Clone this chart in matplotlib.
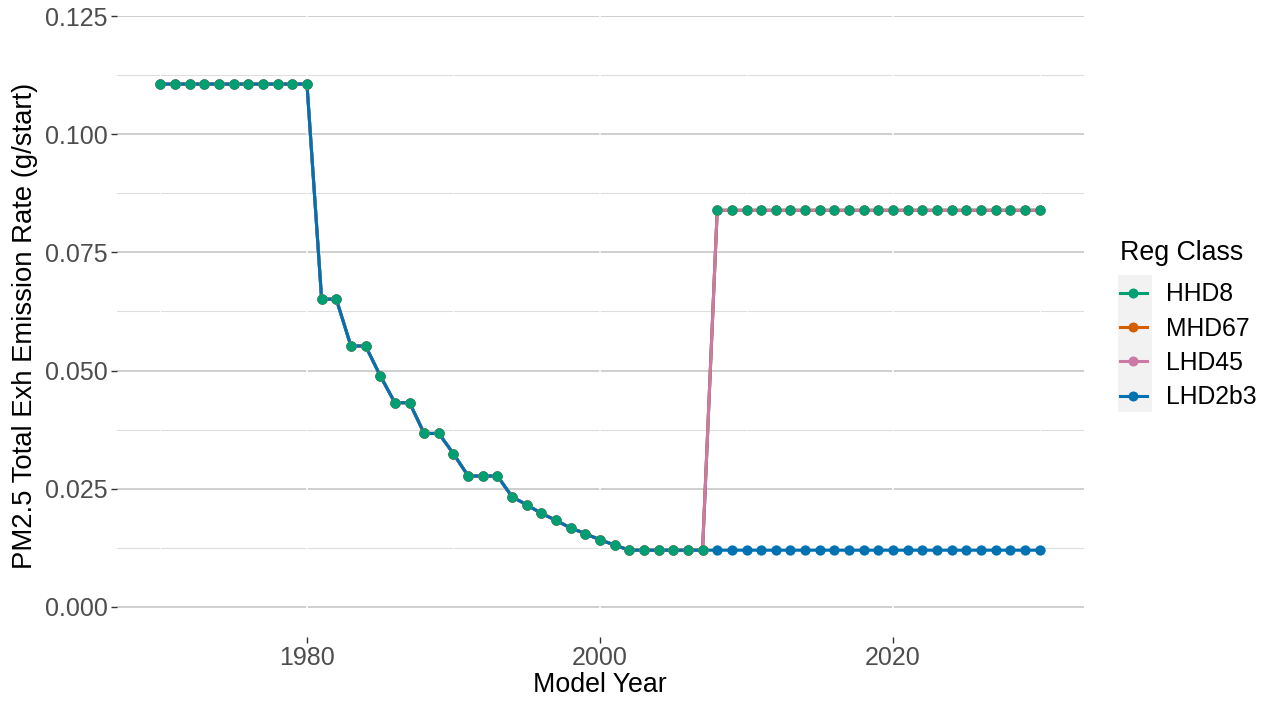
import matplotlib.pyplot as plt
from matplotlib.patches import Rectangle

# model years 1970 - 2030
years = [1970, 1971, 1972, 1973, 1974, 1975, 1976, 1977, 1978, 1979, 1980,
         1981, 1982, 1983, 1984, 1985, 1986, 1987, 1988, 1989, 1990,
         1991, 1992, 1993, 1994, 1995, 1996, 1997, 1998, 1999, 2000,
         2001, 2002, 2003, 2004, 2005, 2006, 2007, 2008, 2009, 2010,
         2011, 2012, 2013, 2014, 2015, 2016, 2017, 2018, 2019, 2020,
         2021, 2022, 2023, 2024, 2025, 2026, 2027, 2028, 2029, 2030]

# all reg classes share the same rates up to 2007
early = [0.1106, 0.1106, 0.1106, 0.1106, 0.1106, 0.1106, 0.1106, 0.1106, 0.1106, 0.1106, 0.1106,
         0.0651, 0.0651, 0.0552, 0.0552, 0.0489, 0.0432, 0.0432, 0.0367, 0.0367, 0.0324,
         0.0277, 0.0277, 0.0277, 0.0233, 0.0216, 0.0198, 0.0183, 0.0167, 0.0155, 0.0142,
         0.0131, 0.0120, 0.0120, 0.0120, 0.0120, 0.0120, 0.0120]
# 2008 - 2030
late_high = [0.0839, 0.0839, 0.0839, 0.0839, 0.0839, 0.0839, 0.0839, 0.0839, 0.0839, 0.0839, 0.0839,
             0.0839, 0.0839, 0.0839, 0.0839, 0.0839, 0.0839, 0.0839, 0.0839, 0.0839, 0.0839,
             0.0839, 0.0839]
late_low = [0.0120, 0.0120, 0.0120, 0.0120, 0.0120, 0.0120, 0.0120, 0.0120, 0.0120, 0.0120, 0.0120,
            0.0120, 0.0120, 0.0120, 0.0120, 0.0120, 0.0120, 0.0120, 0.0120, 0.0120, 0.0120,
            0.0120, 0.0120]

classes = ["HHD8", "MHD67", "LHD45", "LHD2b3"]
series = {
    "HHD8": early + late_high,
    "MHD67": early + late_high,
    "LHD45": early + late_high,
    "LHD2b3": early + late_low,
}
colors = {"HHD8": "#009E73", "MHD67": "#D55E00", "LHD45": "#CC79A7", "LHD2b3": "#0072B2"}

y_ticks = [0.0, 0.025, 0.05, 0.075, 0.1, 0.125]
y_minor = [0.0125, 0.0375, 0.0625, 0.0875, 0.1125]
x_ticks = [1980, 2000, 2020]
x_minor = [1970, 1990, 2010, 2030]

plt.rcParams['font.family'] = ['Liberation Sans', 'DejaVu Sans']

fig = plt.figure(figsize=(12.7, 7.04), dpi=100)
ax = fig.add_axes([116.5 / 1270, 67.5 / 704, 967 / 1270, 620.5 / 704])

# grid in ggplot order: minor y, minor x, major y, major x
for v in y_minor:
    ax.axhline(v, color="#dedede", lw=0.8, zorder=0.1)
for v in x_minor:
    ax.axvline(v, color="white", lw=0.8, zorder=0.2)
for v in y_ticks:
    ax.axhline(v, color="#c2c2c2", lw=1.1, zorder=0.3)
for v in x_ticks:
    ax.axvline(v, color="white", lw=1.1, zorder=0.4)

# lines first, then points (points drawn in reverse order)
for c in classes:
    ax.plot(years, series[c], color=colors[c], lw=2.2, zorder=2, solid_capstyle='butt')
for c in reversed(classes):
    ax.plot(years, series[c], color=colors[c], lw=0, marker='o', markersize=7.4,
            markeredgewidth=0, zorder=3)

ax.set_xlim(1967, 2033)
ax.set_ylim(-0.00625, 0.125)
ax.set_xticks(x_ticks)
ax.set_xticklabels([str(t) for t in x_ticks])
ax.set_yticks(y_ticks)
ax.set_yticklabels(["0.000", "0.025", "0.050", "0.075", "0.100", "0.125"])
ax.tick_params(axis='both', length=4, width=1.0, color="#333333", labelcolor="#4d4d4d",
               labelsize=18, pad=2.5)
for s in ax.spines.values():
    s.set_visible(False)

ax.set_xlabel("Model Year", fontsize=19.3, color="black", labelpad=2)
ax.set_ylabel("PM2.5 Total Exh Emission Rate (g/start)", fontsize=19.8, color="black", labelpad=5)

# legend
handles = [plt.Line2D([], [], color=colors[c], lw=2.2, marker='o', markersize=7.2,
                      markeredgewidth=0) for c in classes]
leg = fig.legend(handles, classes, title="Reg Class", loc='upper left',
                 bbox_to_anchor=(1110 / 1270, 1 - 230 / 704), frameon=False,
                 fontsize=17.8, title_fontsize=19.3, handlelength=1.1, handletextpad=0.75,
                 labelspacing=0.42, borderaxespad=0)
leg._legend_box.align = "left"
leg._legend_box.sep = 11.8  # gap between title and keys
fig.add_artist(Rectangle((1118 / 1270, 1 - 412 / 704), 34 / 1270, 137 / 704,
                         transform=fig.transFigure, facecolor="#f2f2f2", edgecolor="none", zorder=0))

fig.savefig("out.png", dpi=100)
